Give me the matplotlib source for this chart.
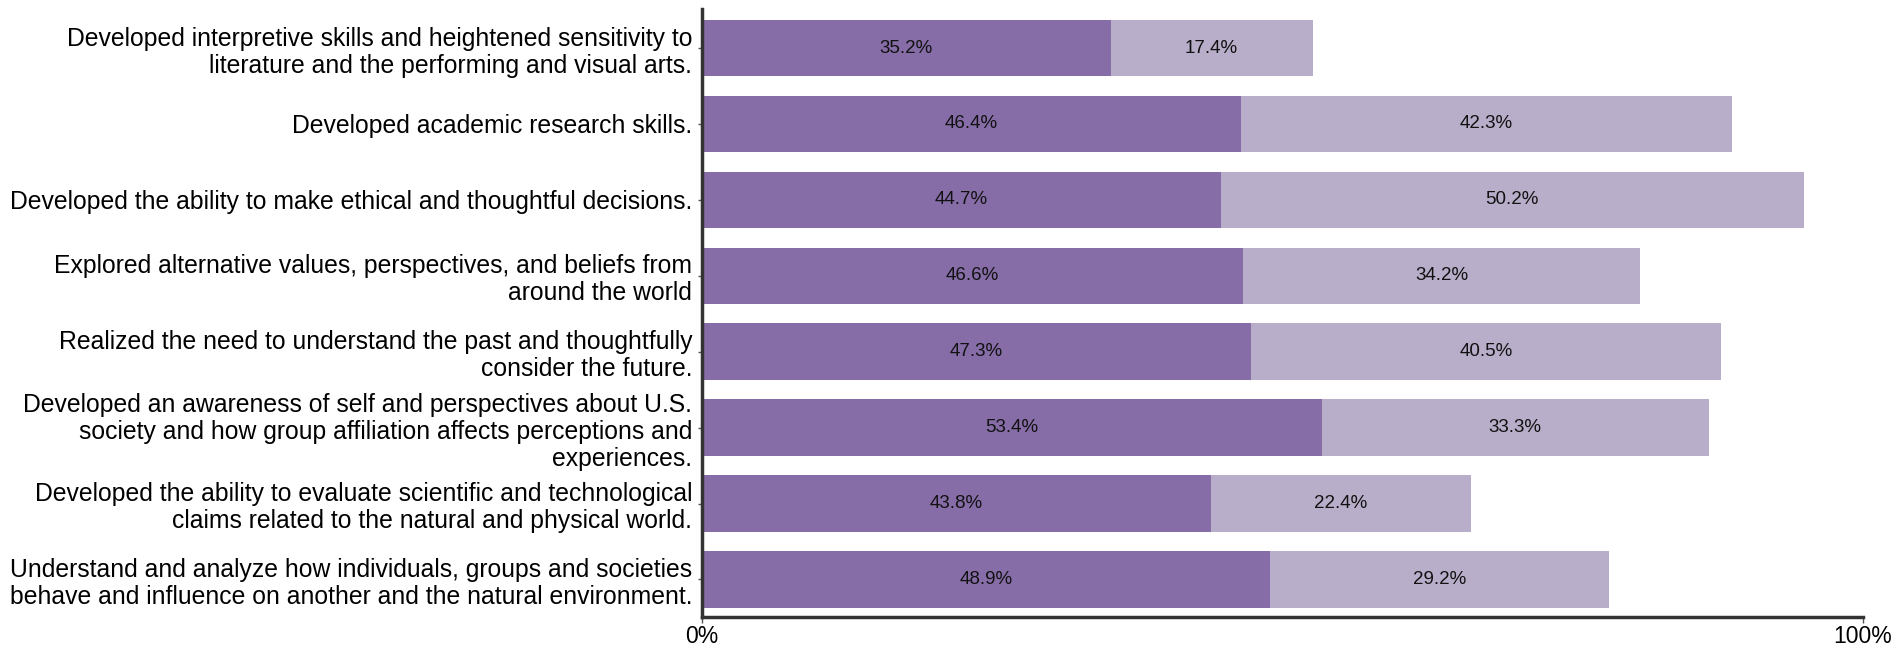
import matplotlib
matplotlib.use("Agg")
import matplotlib.pyplot as plt
import numpy as np

categories = [
    "Developed interpretive skills and heightened sensitivity to\nliterature and the performing and visual arts.",
    "Developed academic research skills.",
    "Developed the ability to make ethical and thoughtful decisions.",
    "Explored alternative values, perspectives, and beliefs from\naround the world",
    "Realized the need to understand the past and thoughtfully\nconsider the future.",
    "Developed an awareness of self and perspectives about U.S.\nsociety and how group affiliation affects perceptions and\nexperiences.",
    "Developed the ability to evaluate scientific and technological\nclaims related to the natural and physical world.",
    "Understand and analyze how individuals, groups and societies\nbehave and influence on another and the natural environment.",
]
series_a = [35.2, 46.4, 44.7, 46.6, 47.3, 53.4, 43.8, 48.9]
series_b = [17.4, 42.3, 50.2, 34.2, 40.5, 33.3, 22.4, 29.2]
x_ticks = [0, 100]
x_ticklabels = ["0%", "100%"]

plt.rcParams['font.family'] = ['Liberation Sans', 'DejaVu Sans']

fig = plt.figure(figsize=(18.96, 6.48), dpi=100)
# axes spans x 702..1863 px, y 9..617 px
ax = fig.add_axes([702 / 1896, 1 - 617 / 648, (1863 - 702) / 1896, (617 - 9) / 648])

y = np.arange(len(categories))
c1 = "#876DA8"
c2 = "#B8AECA"
bars1 = ax.barh(y, series_a, height=0.745, color=c1)
bars2 = ax.barh(y, series_b, left=series_a, height=0.745, color=c2)

for b, v in zip(bars1, series_a):
    ax.text(b.get_x() + b.get_width() / 2, b.get_y() + b.get_height() / 2,
            f"{v:.1f}%", ha="center", va="center", fontsize=13.5, color="#111111")
for b, v in zip(bars2, series_b):
    ax.text(b.get_x() + b.get_width() / 2, b.get_y() + b.get_height() / 2,
            f"{v:.1f}%", ha="center", va="center", fontsize=13.5, color="#111111")

ax.set_xlim(0, 100)
ax.set_ylim(7.494, -0.514)
ax.set_yticks(y)
ax.set_yticklabels(categories, fontsize=17.8, linespacing=1.16)
ax.set_xticks(x_ticks)
ax.set_xticklabels(x_ticklabels, fontsize=16.5)
for s in ["top", "right"]:
    ax.spines[s].set_visible(False)
for s in ["left", "bottom"]:
    ax.spines[s].set_linewidth(2.5)
    ax.spines[s].set_color("#333333")
ax.tick_params(axis="y", length=3, width=1, color="#555555", pad=4)
ax.tick_params(axis="x", length=4, width=1, color="#555555", pad=2)

fig.savefig("out.png", dpi=100)
